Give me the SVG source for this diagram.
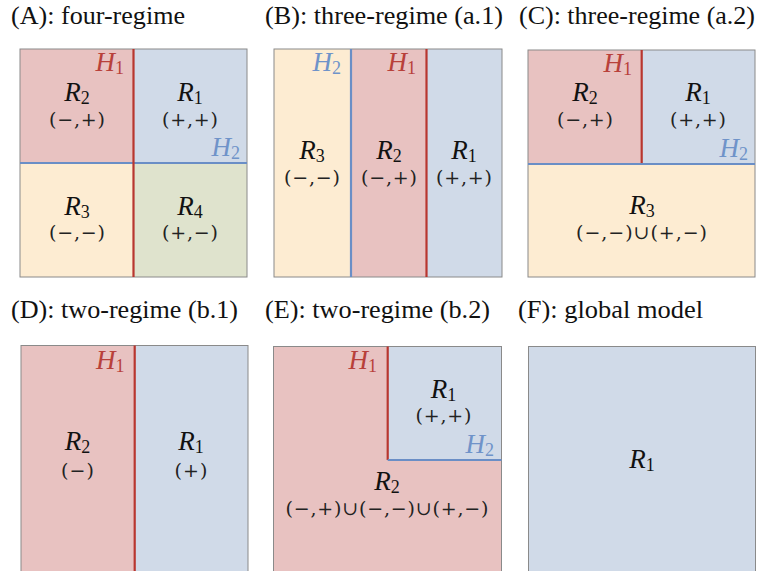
<svg xmlns="http://www.w3.org/2000/svg" width="760" height="571" viewBox="0 0 760 571">
<style>
.ti{font-family:'Liberation Serif','Times New Roman',serif;font-size:25px;fill:#111}
.m{font-family:'Liberation Serif','Times New Roman',serif;font-style:italic;font-size:27px;fill:#111;text-anchor:middle}
.s{font-style:normal;font-size:18px}
.t{font-family:'DejaVu Serif',serif;font-size:19px;fill:#222;text-anchor:middle}
.hr{fill:#b8403a;text-anchor:end}
.hb{fill:#6f93c9;text-anchor:end}
.red{fill:#e8c2c1}
.blue{fill:#d0dae8}
.yel{fill:#fdecd2}
.grn{fill:#dfe3cd}
.frame{fill:none;stroke:#8a8a8a;stroke-width:1}
.l1{stroke:#b8362f;stroke-width:2.2;fill:none}
.l2{stroke:#6a8ec6;stroke-width:2.2;fill:none}
</style>
<rect width="760" height="571" fill="#ffffff"/>

<g id="titles">
<text class="ti" x="11" y="24" textLength="174" lengthAdjust="spacingAndGlyphs">(A): four-regime</text>
<text class="ti" x="265" y="24" textLength="238" lengthAdjust="spacingAndGlyphs">(B): three-regime (a.1)</text>
<text class="ti" x="519" y="24" textLength="236" lengthAdjust="spacingAndGlyphs">(C): three-regime (a.2)</text>
<text class="ti" x="11" y="318" textLength="227" lengthAdjust="spacingAndGlyphs">(D): two-regime (b.1)</text>
<text class="ti" x="265" y="318" textLength="225" lengthAdjust="spacingAndGlyphs">(E): two-regime (b.2)</text>
<text class="ti" x="518" y="318" textLength="185" lengthAdjust="spacingAndGlyphs">(F): global model</text>
</g>

<g id="panelA">
<rect class="red" x="20" y="49" width="113.5" height="114"/>
<rect class="blue" x="133.5" y="49" width="113.5" height="114"/>
<rect class="yel" x="20" y="163" width="113.5" height="114"/>
<rect class="grn" x="133.5" y="163" width="113.5" height="114"/>
<rect class="frame" x="20" y="49" width="227" height="228"/>
<line class="l2" x1="20" y1="163" x2="247" y2="163"/>
<line class="l1" x1="133.5" y1="49" x2="133.5" y2="277"/>
<text class="m hr" x="124" y="71">H<tspan class="s" dy="3">1</tspan></text>
<text class="m hb" x="240" y="156">H<tspan class="s" dy="3">2</tspan></text>
<text class="m" x="77" y="101">R<tspan class="s" dy="3">2</tspan></text>
<text class="t" x="77" y="126" textLength="56" lengthAdjust="spacing">(−,+)</text>
<text class="m" x="190" y="101">R<tspan class="s" dy="3">1</tspan></text>
<text class="t" x="190" y="126" textLength="56" lengthAdjust="spacing">(+,+)</text>
<text class="m" x="77" y="215">R<tspan class="s" dy="3">3</tspan></text>
<text class="t" x="77" y="239" textLength="56" lengthAdjust="spacing">(−,−)</text>
<text class="m" x="190" y="215">R<tspan class="s" dy="3">4</tspan></text>
<text class="t" x="190" y="239" textLength="56" lengthAdjust="spacing">(+,−)</text>
</g>

<g id="panelB">
<rect class="yel" x="274" y="49" width="77" height="228"/>
<rect class="red" x="351" y="49" width="75.5" height="228"/>
<rect class="blue" x="426.5" y="49" width="75.5" height="228"/>
<rect class="frame" x="274" y="49" width="228" height="228"/>
<line class="l2" x1="351" y1="49" x2="351" y2="277"/>
<line class="l1" x1="426.5" y1="49" x2="426.5" y2="277"/>
<text class="m hb" x="341" y="71">H<tspan class="s" dy="3">2</tspan></text>
<text class="m hr" x="416" y="71">H<tspan class="s" dy="3">1</tspan></text>
<text class="m" x="312" y="159">R<tspan class="s" dy="3">3</tspan></text>
<text class="t" x="312" y="184" textLength="56" lengthAdjust="spacing">(−,−)</text>
<text class="m" x="389" y="159">R<tspan class="s" dy="3">2</tspan></text>
<text class="t" x="389" y="184" textLength="56" lengthAdjust="spacing">(−,+)</text>
<text class="m" x="464" y="159">R<tspan class="s" dy="3">1</tspan></text>
<text class="t" x="464" y="184" textLength="56" lengthAdjust="spacing">(+,+)</text>
</g>

<g id="panelC">
<rect class="red" x="528" y="50" width="113.7" height="114"/>
<rect class="blue" x="641.7" y="50" width="113.3" height="114"/>
<rect class="yel" x="528" y="164" width="227" height="113"/>
<rect class="frame" x="528" y="50" width="227" height="227"/>
<line class="l1" x1="641.7" y1="50" x2="641.7" y2="164"/>
<line class="l2" x1="528" y1="164" x2="755" y2="164"/>
<text class="m hr" x="632" y="72">H<tspan class="s" dy="3">1</tspan></text>
<text class="m hb" x="748" y="157">H<tspan class="s" dy="3">2</tspan></text>
<text class="m" x="585" y="101">R<tspan class="s" dy="3">2</tspan></text>
<text class="t" x="585" y="126" textLength="56" lengthAdjust="spacing">(−,+)</text>
<text class="m" x="698" y="101">R<tspan class="s" dy="3">1</tspan></text>
<text class="t" x="698" y="126" textLength="56" lengthAdjust="spacing">(+,+)</text>
<text class="m" x="642" y="214">R<tspan class="s" dy="3">3</tspan></text>
<text class="t" x="641.5" y="239" textLength="131" lengthAdjust="spacing">(−,−)∪(+,−)</text>
</g>

<g id="panelD">
<rect class="red" x="21" y="345.5" width="113.7" height="240"/>
<rect class="blue" x="134.7" y="345.5" width="113.3" height="240"/>
<rect class="frame" x="21" y="345.5" width="227" height="240"/>
<line class="l1" x1="134.7" y1="345.5" x2="134.7" y2="580"/>
<text class="m hr" x="124.5" y="369">H<tspan class="s" dy="3">1</tspan></text>
<text class="m" x="77.5" y="450">R<tspan class="s" dy="3">2</tspan></text>
<text class="t" x="77.5" y="477" textLength="33" lengthAdjust="spacing">(−)</text>
<text class="m" x="191" y="450">R<tspan class="s" dy="3">1</tspan></text>
<text class="t" x="191" y="477" textLength="33" lengthAdjust="spacing">(+)</text>
</g>

<g id="panelE">
<rect class="red" x="273.5" y="346.5" width="228" height="240"/>
<rect class="blue" x="387.7" y="346.5" width="113.8" height="113.5"/>
<rect class="frame" x="273.5" y="346.5" width="228" height="240"/>
<line class="l1" x1="387.7" y1="346.5" x2="387.7" y2="460"/>
<line class="l2" x1="387.7" y1="460" x2="501.5" y2="460"/>
<text class="m hr" x="377" y="369">H<tspan class="s" dy="3">1</tspan></text>
<text class="m hb" x="494" y="453">H<tspan class="s" dy="3">2</tspan></text>
<text class="m" x="443.5" y="398">R<tspan class="s" dy="3">1</tspan></text>
<text class="t" x="443.5" y="422" textLength="56" lengthAdjust="spacing">(+,+)</text>
<text class="m" x="387" y="490">R<tspan class="s" dy="3">2</tspan></text>
<text class="t" x="387" y="515" textLength="203" lengthAdjust="spacing">(−,+)∪(−,−)∪(+,−)</text>
</g>

<g id="panelF">
<rect class="blue" x="528.5" y="346.5" width="227" height="240"/>
<rect class="frame" x="528.5" y="346.5" width="227" height="240"/>
<text class="m" x="642" y="468">R<tspan class="s" dy="3">1</tspan></text>
</g>
</svg>
